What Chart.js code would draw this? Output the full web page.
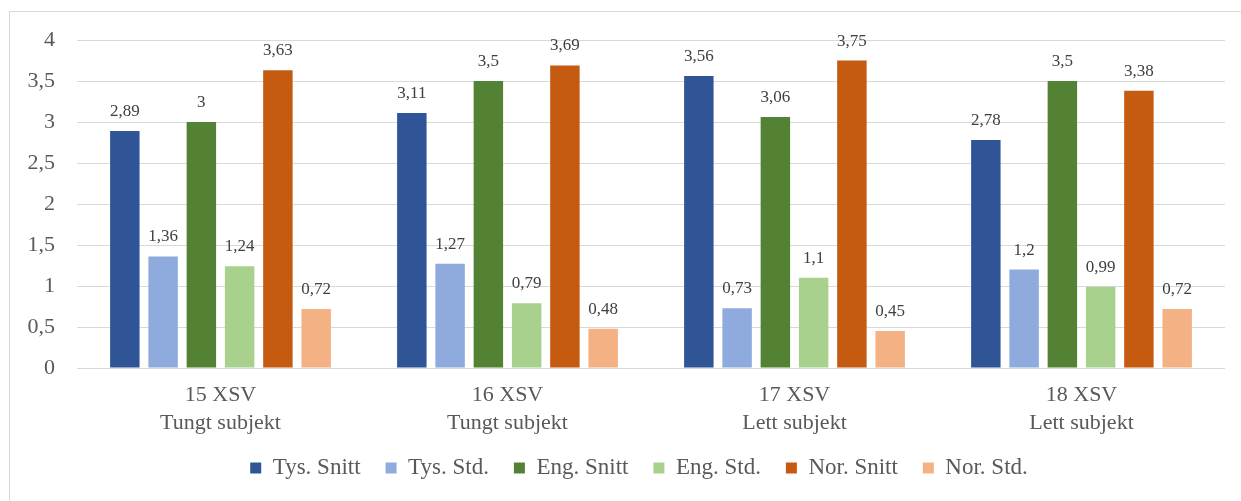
<!DOCTYPE html>
<html>
<head>
<meta charset="utf-8">
<script src="https://cdn.jsdelivr.net/npm/chart.js@4.4.0/dist/chart.umd.min.js"></script>
<style>
  body { margin: 0; background: #fff; }
  #frame { position: absolute; left: 9px; top: 11px; width: 1240px; height: 500px; border: 1px solid #d9d9d9; }
  #c { position: absolute; left: 0; top: 0; }
</style>
</head>
<body>
<div id="frame"></div>
<canvas id="c" width="1241" height="501"></canvas>
<script>
// categories (two line labels)
var categories = [
  ['15 XSV', 'Tungt subjekt'],
  ['16 XSV', 'Tungt subjekt'],
  ['17 XSV', 'Lett subjekt'],
  ['18 XSV', 'Lett subjekt']
];
var seriesNames = ['Tys. Snitt', 'Tys. Std.', 'Eng. Snitt', 'Eng. Std.', 'Nor. Snitt', 'Nor. Std.'];
var tysSnitt = [2.89, 3.11, 3.56, 2.78];
var tysStd   = [1.36, 1.27, 0.73, 1.2];
var engSnitt = [3, 3.5, 3.06, 3.5];
var engStd   = [1.24, 0.79, 1.1, 0.99];
var norSnitt = [3.63, 3.69, 3.75, 3.38];
var norStd   = [0.72, 0.48, 0.45, 0.72];
var yTicks = [0, 0.5, 1, 1.5, 2, 2.5, 3, 3.5, 4];

var colors = ['#2f5597', '#8faadc', '#548235', '#a9d18e', '#c55a11', '#f4b183'];
var values = [tysSnitt, tysStd, engSnitt, engStd, norSnitt, norStd];
var font = 'Liberation Serif';

function comma(v) {
  return String(v).replace('.', ',');
}

var datasets = [];
for (var i = 0; i < seriesNames.length; i++) {
  datasets.push({
    label: seriesNames[i],
    data: values[i],
    backgroundColor: colors[i],
    borderWidth: 0,
    barPercentage: 0.77,
    categoryPercentage: 0.8
  });
}

// value labels above bars
var valueLabels = {
  id: 'valueLabels',
  afterDatasetsDraw: function(chart) {
    var ctx = chart.ctx;
    ctx.save();
    ctx.font = '17px "' + font + '"';
    ctx.fillStyle = '#404040';
    ctx.textAlign = 'center';
    ctx.textBaseline = 'alphabetic';
    chart.data.datasets.forEach(function(ds, di) {
      var meta = chart.getDatasetMeta(di);
      meta.data.forEach(function(bar, j) {
        ctx.fillText(comma(ds.data[j]), bar.x, bar.y - 15);
      });
    });
    ctx.restore();
  }
};

// nudge the legend box to where the original has it
var legendNudge = {
  id: 'legendNudge',
  afterLayout: function(chart) {
    var lg = chart.legend;
    var h = lg.bottom - lg.top;
    lg.left += 22;
    lg.right += 22;
    lg.top = 468 - 11.5 - 25;
    lg.bottom = lg.top + h;
  }
};

var ctx = document.getElementById('c');
var chart = new Chart(ctx, {
  type: 'bar',
  data: { labels: categories, datasets: datasets },
  plugins: [valueLabels, legendNudge],
  options: {
    responsive: false,
    animation: false,
    layout: { padding: { left: 9, right: 16, top: 40, bottom: 5 } },
    plugins: {
      tooltip: { enabled: false },
      legend: {
        position: 'bottom',
        labels: {
          color: '#595959',
          font: { family: font, size: 23 },
          boxWidth: 11,
          boxHeight: 11,
          padding: 25
        }
      }
    },
    scales: {
      x: {
        grid: { display: false },
        border: { display: false },
        ticks: {
          color: '#595959',
          font: { family: font, size: 22, lineHeight: 1.27 },
          padding: 5
        },
        afterFit: function(scale) { scale.height = 70; }
      },
      y: {
        min: 0,
        max: 4,
        afterBuildTicks: function(scale) {
          scale.ticks = yTicks.map(function(v) { return { value: v }; });
        },
        grid: { color: '#d9d9d9', drawTicks: false },
        border: { display: false },
        ticks: {
          color: '#595959',
          font: { family: font, size: 22 },
          padding: 22,
          callback: function(v) { return comma(v); }
        },
        afterFit: function(scale) { scale.width = 68; }
      }
    }
  }
});
</script>
</body>
</html>
